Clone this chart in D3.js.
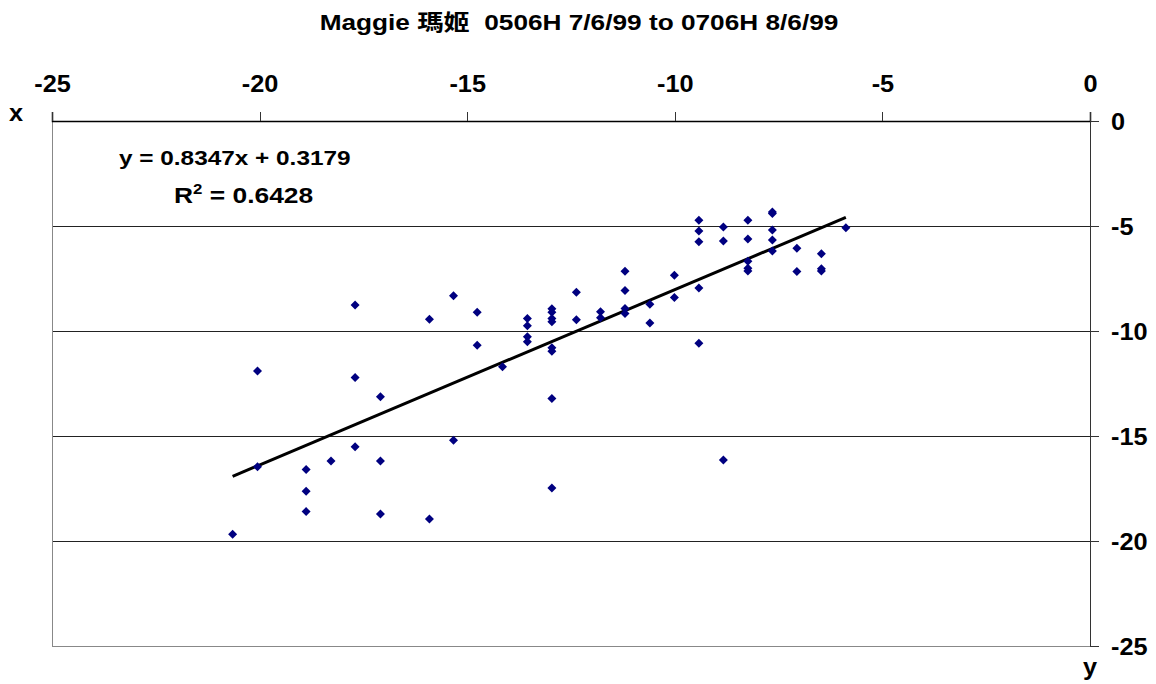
<!DOCTYPE html>
<html>
<head>
<meta charset="utf-8">
<script src="https://cdn.jsdelivr.net/npm/d3@7"></script>
<style>
  body { margin: 0; background: #fff; }
  svg text { font-family: "Liberation Sans", Arial, "Noto Sans CJK TC", sans-serif; font-weight: bold; fill: #000; white-space: pre; }
</style>
</head>
<body>
<svg id="chart" width="1156" height="684"></svg>
<script>
// 資料
var titleText = 'Maggie 瑪姬  0506H 7/6/99 to 0706H 8/6/99';
var xTicks = [-25, -20, -15, -10, -5, 0];
var yTicks = [0, -5, -10, -15, -20, -25];
var gridValues = [-5, -10, -15, -20];
var xValues = [
  -20.65, -20.05, -20.05,
  -18.88, -18.88, -18.88, -18.28,
  -17.70, -17.70, -17.70, -17.09, -17.09, -17.09,
  -15.91, -15.91, -15.33, -15.33,
  -14.76, -14.76, -14.15,
  -13.55, -13.55, -13.55, -13.55,
  -12.96, -12.96, -12.96, -12.96, -12.96, -12.96, -12.96, -12.96,
  -12.37, -12.37,
  -11.79, -11.79,
  -11.20, -11.20, -11.20, -11.20,
  -10.60, -10.60,
  -10.01, -10.01,
  -9.42, -9.42, -9.42, -9.42, -9.42,
  -8.83, -8.83, -8.83,
  -8.24, -8.24, -8.24, -8.24, -8.24,
  -7.65, -7.65, -7.65, -7.65, -7.65,
  -7.06, -7.06,
  -6.47, -6.47, -6.47,
  -5.88
];
var yValues = [
  -19.68, -11.90, -16.46,
  -16.60, -17.63, -18.60, -16.19,
  -8.76, -12.22, -15.51, -13.13, -16.19, -18.71,
  -9.44, -18.95, -8.32, -15.20,
  -9.11, -10.68, -11.70,
  -9.40, -9.75, -10.27, -10.51,
  -8.94, -9.11, -9.40, -9.56, -10.80, -10.97, -13.22, -17.48,
  -8.16, -9.46,
  -9.08, -9.37,
  -7.15, -8.07, -8.93, -9.17,
  -8.73, -9.62,
  -7.34, -8.40,
  -4.73, -5.24, -5.75, -7.95, -10.58,
  -5.05, -5.71, -16.14,
  -4.73, -5.62, -6.68, -7.01, -7.14,
  -4.33, -4.40, -5.19, -5.67, -6.19,
  -6.06, -7.17,
  -6.32, -7.03, -7.14,
  -5.08
];
var slope = 0.8347, intercept = 0.3179;
var eqText = 'y = 0.8347x + 0.3179';
var r2Value = '0.6428';

var svg = d3.select('#chart');
var x = d3.scaleLinear().domain([-25, 0]).range([52, 1090]);
var y = d3.scaleLinear().domain([0, -25]).range([121, 646]);

// 文字 (橫向拉寬)
function addText(px, py, str, size, sx, anchor){
  return svg.append('text')
    .attr('transform', 'translate(' + px + ',' + py + ') scale(' + sx + ',1)')
    .attr('font-size', size).attr('text-anchor', anchor || 'start').text(str);
}

// 標題
addText(579, 30, titleText, 21.5, 1.22, 'middle');

// 格線
svg.append('g').selectAll('line').data(gridValues).enter().append('line')
   .attr('x1', x(-25)).attr('x2', x(0))
   .attr('y1', function(d){ return y(d); }).attr('y2', function(d){ return y(d); })
   .attr('stroke', '#222').attr('stroke-width', 1).attr('shape-rendering', 'crispEdges');

// 左、下邊框
svg.append('line').attr('x1', x(-25)).attr('x2', x(-25)).attr('y1', y(0)).attr('y2', y(-25))
   .attr('stroke', '#888').attr('stroke-width', 1).attr('shape-rendering', 'crispEdges');
svg.append('line').attr('x1', x(-25)).attr('x2', x(0)).attr('y1', y(-25)).attr('y2', y(-25))
   .attr('stroke', '#888').attr('stroke-width', 1).attr('shape-rendering', 'crispEdges');

// 上方 x 軸
var xAxis = d3.axisTop(x).tickValues(xTicks).tickSize(9).tickFormat(function(d){ return String(d); });
var gx = svg.append('g').attr('transform', 'translate(0,' + y(0) + ')').call(xAxis);
gx.attr('font-family', null).attr('font-size', null);
gx.select('.domain').attr('stroke', '#000').attr('stroke-width', 1.5);
gx.selectAll('.tick line').attr('stroke', '#333').attr('shape-rendering', 'crispEdges');
gx.selectAll('.tick text').attr('font-size', 23).attr('y', null).attr('dy', null)
  .attr('transform', 'translate(0,-29) scale(1.1,1)').attr('fill', '#000');

// 右方 y 軸
var yAxis = d3.axisRight(y).tickValues(yTicks).tickSize(9).tickFormat(function(d){ return String(d); });
var gy = svg.append('g').attr('transform', 'translate(' + x(0) + ',0)').call(yAxis);
gy.attr('font-family', null).attr('font-size', null);
gy.select('.domain').attr('stroke', '#333').attr('stroke-width', 1).attr('shape-rendering', 'crispEdges');
gy.selectAll('.tick line').attr('stroke', '#333').attr('shape-rendering', 'crispEdges');
gy.selectAll('.tick text').attr('font-size', 23).attr('x', null).attr('dy', null)
  .attr('transform', 'translate(21,8.5) scale(1.1,1)').attr('text-anchor', 'start').attr('fill', '#000');

// 軸標籤
addText(9, 121, 'x', 23, 1.1);
addText(1083, 675, 'y', 23, 1.1);

// 趨勢線
var xExt = d3.extent(xValues);
svg.append('line')
   .attr('x1', x(xExt[0])).attr('y1', y(slope * xExt[0] + intercept))
   .attr('x2', x(xExt[1])).attr('y2', y(slope * xExt[1] + intercept))
   .attr('stroke', '#000').attr('stroke-width', 3);

// 散點
var pts = xValues.map(function(v, i){ return [v, yValues[i]]; });
svg.append('g').selectAll('path').data(pts).enter().append('path')
   .attr('d', 'M0,-4.5L4.5,0L0,4.5L-4.5,0Z')
   .attr('transform', function(d){ return 'translate(' + x(d[0]) + ',' + y(d[1]) + ')'; })
   .attr('fill', '#000080');

// 方程式
addText(119, 165, eqText, 21, 1.16);
var r2 = addText(174, 203, '', 22, 1.2);
r2.append('tspan').text('R');
r2.append('tspan').attr('dy', -9).attr('font-size', 14).text('2');
r2.append('tspan').attr('dy', 9).text(' = ' + r2Value);
</script>
</body>
</html>
